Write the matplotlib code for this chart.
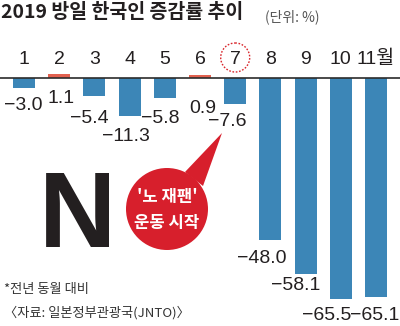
import matplotlib
matplotlib.use("Agg")
import matplotlib.pyplot as plt
from matplotlib.patches import Circle, Polygon

plt.rcParams['font.family'] = ['Liberation Sans', 'Noto Sans CJK KR', 'DejaVu Sans']

# 데이터 (2019 방일 한국인 증감률, %)
months = [1, 2, 3, 4, 5, 6, 7, 8, 9, 10, 11]
month_labels = ['1', '2', '3', '4', '5', '6', '7', '8', '9', '10', '11월']
changes = [-3.0, 1.1, -5.4, -11.3, -5.8, 0.9, -7.6, -48.0, -58.1, -65.5, -65.1]

# 라벨 위치 보정 (픽셀)
label_dx = [-1, 2, -5, -4, -5, 3, -8, -9, -10, -14, -1]
label_dy = [9, 12, 14, 12, 12, 22, 9, 10, 3, 8, 10]

W, H = 400, 326
fig = plt.figure(figsize=(W / 100, H / 100), dpi=100)
fig.patch.set_facecolor('white')

# 메인 축: 막대
ax = fig.add_axes([0, 0, 1, 1])
ax.axis('off')
step = 35.2
x0, base_px, scale = 24, 78, 3.37
xlim = (1 - x0 / step, 1 + (W - x0) / step)
ylim = (-(H - base_px) / scale, base_px / scale)
ax.set_xlim(*xlim)
ax.set_ylim(*ylim)

blue = '#3c86b7'
red_bar = '#e2614f'
dark = '#231f20'
colors = [red_bar if v > 0 else blue for v in changes]
ax.bar(months, changes, width=0.625, color=colors, zorder=2)
ax.axhline(0, color='#2b2b2b', lw=1.2, zorder=3)

for m, v, dx, dy in zip(months, changes, label_dx, label_dy):
    txt = f"{v:.1f}".replace('-', '\u2212')
    ax.annotate(txt, xy=(m, min(v, 0)), xytext=(dx * 0.72, -dy * 0.72),
                textcoords='offset points', ha='center', va='top',
                fontsize=14, color=dark)

for m, lab in zip(months, month_labels):
    ax.text(m, (base_px - 64) / scale, lab, ha='center', va='baseline',
            fontsize=14, color=dark)

# 오버레이 축 (픽셀 좌표)
ov = fig.add_axes([0, 0, 1, 1], facecolor='none')
ov.set_xlim(0, W)
ov.set_ylim(H, 0)
ov.axis('off')

# 7월 강조 점선 원
cx7 = (7 - xlim[0]) / (xlim[1] - xlim[0]) * W
ov.add_patch(Circle((cx7, 57.5), 14.5, fill=False, ec='#d9262c', lw=1.0,
                    ls=(0, (1.2, 1.2))))

# 제목
ov.text(1, 3, '2019 방일 한국인 증감률 추이', ha='left', va='top',
        fontsize=14, fontweight='bold', color=dark,
        family=['Noto Sans CJK KR', 'DejaVu Sans'])
ov.text(265, 17, '(단위: %)', ha='left', va='center', fontsize=10,
        color='#555555', family=['Noto Sans CJK KR', 'DejaVu Sans'])

# 큰 N
ov.text(77, 247, 'N', ha='center', va='baseline', fontsize=77,
        fontweight='bold', color=dark, family=['Liberation Sans'])

# 말풍선
red = '#d71f2c'
ov.add_patch(Polygon([(185, 172), (222, 133), (203, 186)], closed=True,
                     fc=red, ec='none'))
ov.add_patch(Circle((167, 209), 41, fc=red, ec='none'))
ov.text(167, 197, "'노 재팬'", ha='center', va='center', fontsize=12,
        fontweight='bold', color='white', family=['Noto Sans CJK KR'])
ov.text(167, 223, '운동 시작', ha='center', va='center', fontsize=12,
        fontweight='bold', color='white', family=['Noto Sans CJK KR'])

# 주석
ov.text(4, 290, '*전년 동월 대비', ha='left', va='center', fontsize=9.5,
        color='#333333', family=['Noto Sans CJK KR', 'DejaVu Sans'])
ov.text(4, 313, '〈자료: 일본정부관광국(JNTO)〉', ha='left', va='center',
        fontsize=9.5, color='#333333', family=['Noto Sans CJK KR', 'DejaVu Sans'])

fig.savefig('out.png', dpi=100)
